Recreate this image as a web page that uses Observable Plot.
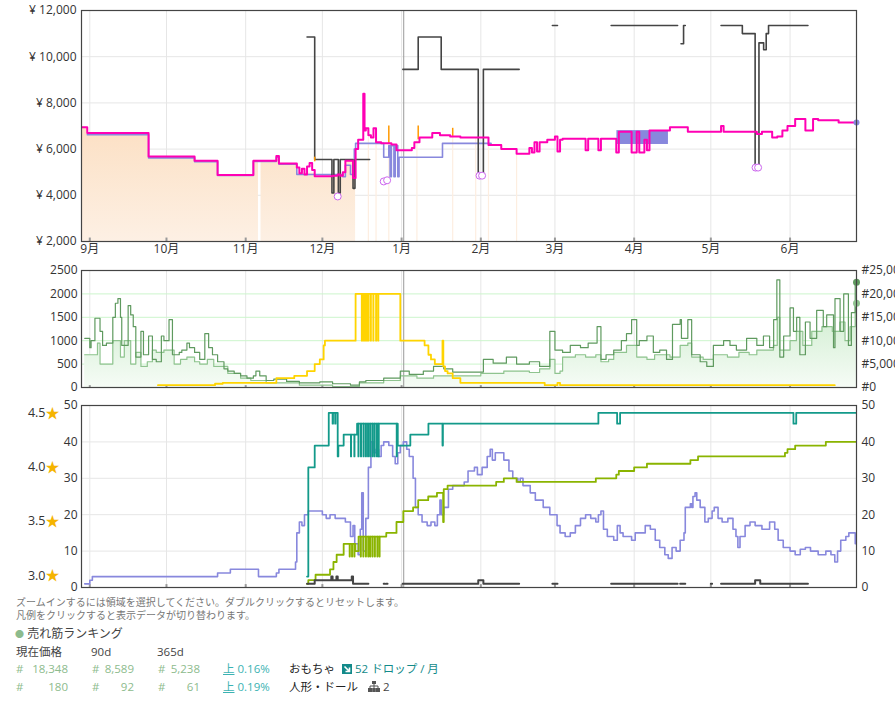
<!DOCTYPE html>
<html><head><meta charset="utf-8">
<script src="https://cdn.jsdelivr.net/npm/d3@7"></script>
<script src="https://cdn.jsdelivr.net/npm/@observablehq/plot@0.6"></script>
<style>
body{margin:0;background:#fff;font-family:"Open Sans","Noto Sans CJK JP",sans-serif;}
#wrap{position:relative;width:895px;height:705px;overflow:hidden;background:#fff;}
.panel{position:absolute;left:0;}
.ft{position:absolute;white-space:nowrap;line-height:14px;}
</style></head><body><div id="wrap">
<div id="p1" class="panel" style="top:0"></div>
<div id="p2" class="panel" style="top:260px"></div>
<div id="p3" class="panel" style="top:395px"></div>
</div>
<script>
// ---------- shared ----------
const monthStarts = ["2023-09-01","2023-10-01","2023-11-01","2023-12-01","2024-01-01","2024-02-01","2024-03-01","2024-04-01","2024-05-01","2024-06-01"];
const xStart = "2023-08-28T18:00", xEnd = "2024-06-27T00:00";
const yearMark = ["2024-01-01T20:00"];

// ---------- top panel: prices ----------
const priceTicks = [2000,4000,6000,8000,10000,12000];
const buyBoxPrice = [["2023-08-29",6950],["2023-08-31",6700],["2023-09-24",5680],["2023-10-12",5500],["2023-10-21",4880],["2023-11-04",5500],["2023-11-13",5700],["2023-11-14",5380],["2023-11-21",5200],["2023-11-22",4950],["2023-11-23",5150],["2023-11-24",4900],["2023-11-25",5250],["2023-11-26",5400],["2023-11-27",5100],["2023-11-28",4830],["2023-12-05",4850],["2023-12-07",4900],["2023-12-08",4850],["2023-12-09",5000],["2023-12-10",5500],["2023-12-13",4750],["2023-12-14",6000],["2023-12-15",6400],["2023-12-17",8400],["2023-12-17T12:00",6800],["2023-12-18",6900],["2023-12-19",6600],["2023-12-20",6500],["2023-12-21",6900],["2023-12-22",6300],["2023-12-24",6250],["2023-12-28",6200],["2023-12-30",5950],["2024-01-05",6050],["2024-01-06",6300],["2024-01-08",6500],["2024-01-13",6700],["2024-01-16",6600],["2024-01-20",6550],["2024-01-24",6500],["2024-02-04",6180],["2024-02-09",6000],["2024-02-15",5800],["2024-02-20",6050],["2024-02-21",5850],["2024-02-22",6300],["2024-02-23",5900],["2024-02-24",6300],["2024-02-27",6400],["2024-03-01",6550],["2024-03-02",5900],["2024-03-03",6400],["2024-03-04",6450],["2024-03-13",5950],["2024-03-14",6450],["2024-03-18",5950],["2024-03-19",6450],["2024-03-25",5850],["2024-03-26",6750],["2024-03-31",5850],["2024-04-02",6750],["2024-04-03",5850],["2024-04-05",6400],["2024-04-06",5950],["2024-04-07",6800],["2024-04-15",6950],["2024-04-22",6750],["2024-05-05",7000],["2024-05-06",6750],["2024-05-19",6650],["2024-05-21",6750],["2024-05-25",6500],["2024-05-27",6550],["2024-05-29",6800],["2024-05-31",7000],["2024-06-03",7300],["2024-06-07",6800],["2024-06-10",7300],["2024-06-12",7250],["2024-06-20",7150],["2024-06-27",7150]];
const newPrice = [["2023-08-31",6620],["2023-09-24",5620],["2023-10-12",5450],["2023-10-21",4860],["2023-11-04",5460],["2023-11-13",5650],["2023-11-14",5350],["2023-11-21",4900],["2023-12-09",4800],["2023-12-10",5300],["2023-12-12",4900],["2023-12-13T12:00",6000],["2023-12-14",6250],["2023-12-25",5650],["2023-12-27",6150],["2023-12-27T12:00",4800],["2023-12-28",6150],["2023-12-29",4800],["2023-12-29T12:00",6150],["2023-12-30T12:00",4800],["2023-12-31",5650],["2024-01-17",6250],["2024-02-05",6180],["2024-02-05T01:00",null]];
const newPriceBlock = ["2024-03-25T06:00","2024-04-14T10:00",6200,6800];
const newPriceLast = [["2024-06-27",7150]];
const amazonPrice = [["2023-08-28T18:00",6950],["2023-08-31",6650],["2023-09-24",5650],["2023-10-12",5480],["2023-10-21",4880],["2023-11-04",5500],["2023-11-06",5500],["2023-11-06T01:00",null],["2023-11-07",5500],["2023-11-13",5680],["2023-11-14",5370],["2023-11-21",4950],["2023-11-28",4830],["2023-12-09",5000],["2023-12-10",5500],["2023-12-14",5500],["2023-12-14T01:00",null]];
const amazonSpikes = [["2023-12-19",6500],["2023-12-22",6300],["2023-12-27",6300],["2024-01-07",6400],["2024-01-21",6600],["2024-01-30",6500],["2024-02-04",6500],["2024-02-15",6000]];
const amazonTicks = [["2023-11-28",5450,5650],["2023-12-27",6200,7000],["2024-01-07T12:00",6400,7000],["2024-01-21",6550,6900]];
const collectiblePrice = [["2023-11-25",10850],["2023-11-28",5550],["2023-12-04T18:00",4100],["2023-12-05T12:00",5550],["2023-12-07T06:00",4100],["2023-12-08",5550],["2023-12-13",4300],["2023-12-13T18:00",5550],["2023-12-19T12:00",5550],["2023-12-19T13:00",null],["2024-01-01T12:00",9450],["2024-01-07T12:00",10850],["2024-01-16T12:00",9450],["2024-01-31",4850],["2024-02-02",9450],["2024-02-16",9450],["2024-02-16T01:00",null],["2024-02-29",11350],["2024-03-02",11350],["2024-03-02T01:00",null],["2024-03-23",11350],["2024-04-18",11350],["2024-04-18T01:00",null],["2024-04-19T08:00",10560],["2024-04-20T08:00",11350],["2024-04-21",11350],["2024-04-21T01:00",null],["2024-05-05",11350],["2024-05-13T08:00",11000],["2024-05-18T08:00",5200],["2024-05-19T20:00",10600],["2024-05-21T16:00",10300],["2024-05-22T16:00",11000],["2024-05-23T14:00",11350],["2024-06-08",11350]];
const dealMarks = [["2023-12-07",3950],["2023-12-25",4600],["2023-12-26T08:00",4650],["2024-01-31T12:00",4850],["2024-02-01T12:00",4850],["2024-05-18T12:00",5200],["2024-05-19T12:00",5200]];

// ---------- middle panel: rank + offers ----------
const countTicks = [0,500,1000,1500,2000,2500];
const rankTicks = [0,5000,10000,15000,20000,25000];
const offerSeries = [["2023-09-27T16:00",50],["2023-10-20",80],["2023-10-23",100],["2023-11-13",200],["2023-11-20",250],["2023-11-25",350],["2023-11-28",500],["2023-11-30",600],["2023-12-01T12:00",900],["2023-12-02",1000],["2023-12-14",2000],["2023-12-16T10:00",1000],["2023-12-16T12:00",2000],["2023-12-17",1000],["2023-12-17T02:00",2000],["2023-12-17T16:00",1000],["2023-12-17T18:00",2000],["2023-12-18T08:00",1000],["2023-12-18T10:00",2000],["2023-12-19",1000],["2023-12-19T02:00",2000],["2023-12-19T22:00",1000],["2023-12-20",2000],["2023-12-20T22:00",1000],["2023-12-21",2000],["2023-12-22",1000],["2023-12-22T02:00",2000],["2023-12-22T20:00",1000],["2023-12-22T22:00",2000],["2023-12-31T12:00",1000],["2024-01-10",900],["2024-01-11T12:00",700],["2024-01-12T12:00",600],["2024-01-14",500],["2024-01-17",1000],["2024-01-17T08:00",450],["2024-01-18",350],["2024-01-19",300],["2024-01-21",200],["2024-01-24",100],["2024-02-26",50],["2024-03-02",100],["2024-03-03",50],["2024-06-18T12:00",50]];
const rankDark = [["2023-08-30",10500],["2023-09-01",8500],["2023-09-01T12:00",10000],["2023-09-03",14800],["2023-09-05",12000],["2023-09-06",9000],["2023-09-07T12:00",9500],["2023-09-10",15000],["2023-09-11",18000],["2023-09-12",19000],["2023-09-13",15000],["2023-09-13T12:00",9000],["2023-09-16",17500],["2023-09-17",15500],["2023-09-18",13000],["2023-09-19",6500],["2023-09-21",12000],["2023-09-22",7000],["2023-09-24",11000],["2023-09-25T12:00",6000],["2023-09-27",5500],["2023-09-29",11000],["2023-09-30",10000],["2023-10-02",14500],["2023-10-03T08:00",7000],["2023-10-06",7500],["2023-10-07",8000],["2023-10-09",9500],["2023-10-10",8500],["2023-10-12",7500],["2023-10-14",6000],["2023-10-16",11500],["2023-10-17T12:00",8500],["2023-10-19",7000],["2023-10-21",5500],["2023-10-23T12:00",4000],["2023-10-25",3500],["2023-10-27T12:00",3000],["2023-10-30",2500],["2023-11-01T12:00",2000],["2023-11-04",2500],["2023-11-05",3500],["2023-11-06T12:00",2500],["2023-11-09",1500],["2023-11-12",1800],["2023-11-17",1300],["2023-11-22",1000],["2023-11-30",1200],["2023-12-05",800],["2023-12-12",500],["2023-12-15T12:00",1200],["2023-12-18",1500],["2023-12-25",2000],["2023-12-31T12:00",3500],["2024-01-04",2800],["2024-01-09T12:00",3500],["2024-01-13T12:00",4500],["2024-01-17T12:00",4000],["2024-01-21",3300],["2024-02-02",6000],["2024-02-05T20:00",5200],["2024-02-11",6500],["2024-02-15",5000],["2024-02-20",5500],["2024-02-24",4500],["2024-02-28",12000],["2024-03-01",8000],["2024-03-04",7500],["2024-03-07",9000],["2024-03-11",8500],["2024-03-14",9500],["2024-03-17T12:00",13000],["2024-03-19",6000],["2024-03-21",7000],["2024-03-24",8000],["2024-03-27",10000],["2024-03-29",11500],["2024-03-31",14500],["2024-04-02",9000],["2024-04-03",10000],["2024-04-06",11000],["2024-04-08T12:00",7500],["2024-04-11",8000],["2024-04-13T16:00",6000],["2024-04-16",13500],["2024-04-19",14500],["2024-04-19T12:00",10500],["2024-04-22",14500],["2024-04-23T12:00",7000],["2024-04-26T20:00",5500],["2024-04-29T10:00",4500],["2024-05-02",9000],["2024-05-06",10000],["2024-05-08T12:00",9000],["2024-05-11",8000],["2024-05-15",10500],["2024-05-19",9000],["2024-05-21T14:00",11000],["2024-05-24",8500],["2024-05-25T14:00",14500],["2024-05-26T20:00",23000],["2024-05-28",6500],["2024-05-29T12:00",11000],["2024-06-01",17000],["2024-06-02T08:00",12000],["2024-06-03T14:00",15000],["2024-06-04T20:00",7000],["2024-06-07",14000],["2024-06-08T20:00",10500],["2024-06-11T10:00",16500],["2024-06-14",13000],["2024-06-15T08:00",15500],["2024-06-18",8500],["2024-06-18T14:00",19000],["2024-06-20T14:00",12000],["2024-06-22",20000],["2024-06-23T20:00",9000],["2024-06-25",16000],["2024-06-26T12:00",22500],["2024-06-27",22500]];
const rankLight = [["2023-08-30",7000],["2023-09-04",9500],["2023-09-05",5000],["2023-09-10",10000],["2023-09-13",6500],["2023-09-14T12:00",10000],["2023-09-17",5000],["2023-09-19",7500],["2023-09-21",4500],["2023-09-23T12:00",5500],["2023-09-25T12:00",8000],["2023-09-27",7500],["2023-09-30",8000],["2023-10-04",5000],["2023-10-06T12:00",6000],["2023-10-09",6500],["2023-10-12",5500],["2023-10-14",5000],["2023-10-17",6000],["2023-10-19T12:00",4500],["2023-10-25",3000],["2023-10-30",2000],["2023-11-03",1500],["2023-11-09",1000],["2023-11-22",500],["2023-12-05",200],["2023-12-15T12:00",1000],["2023-12-25",1500],["2023-12-31T12:00",2500],["2024-01-07",2000],["2024-01-13T12:00",2500],["2024-01-20",2500],["2024-02-01",3000],["2024-02-10",3500],["2024-02-20",3200],["2024-02-24",4000],["2024-02-28",6000],["2024-03-01",3000],["2024-03-03",3500],["2024-03-04",6500],["2024-03-09",7000],["2024-03-13",6500],["2024-03-17",7000],["2024-03-19",5500],["2024-03-22",6000],["2024-03-24",7500],["2024-03-29",9000],["2024-04-02",6500],["2024-04-06",6000],["2024-04-09",7000],["2024-04-15",6500],["2024-04-19",9000],["2024-04-22",9500],["2024-04-23T12:00",6500],["2024-04-28",6000],["2024-05-02",7000],["2024-05-07T12:00",6500],["2024-05-12",7500],["2024-05-16",7000],["2024-05-19",8000],["2024-05-25T12:00",9000],["2024-05-27",15000],["2024-05-28",8000],["2024-06-01",10000],["2024-06-03T12:00",12000],["2024-06-06",9000],["2024-06-09T12:00",12000],["2024-06-13T12:00",13000],["2024-06-17T12:00",12000],["2024-06-20T12:00",14000],["2024-06-22T12:00",10000],["2024-06-24T12:00",13000],["2024-06-26T12:00",18000],["2024-06-27",18000]];

// ---------- bottom panel: counts + rating ----------
const smallTicks = [0,10,20,30,40,50];
const ratingTicks = [3.0,3.5,4.0,4.5];
const ratingDomain = [2.89, 4.57];
const reviewCount = [["2023-08-30",1],["2023-09-01",2],["2023-09-02",3],["2023-10-21",4],["2023-10-26",5],["2023-11-06",3],["2023-11-13",4],["2023-11-14",5],["2023-11-20T12:00",7],["2023-11-21",15],["2023-11-22",18],["2023-11-23",17],["2023-11-24",20],["2023-11-25T12:00",21],["2023-12-01",20],["2023-12-02T12:00",19],["2023-12-04",20],["2023-12-06",19],["2023-12-10",18],["2023-12-12",14],["2023-12-13",17],["2023-12-13T16:00",12],["2023-12-15",9],["2023-12-15T20:00",16],["2023-12-16T10:00",26],["2023-12-17",10],["2023-12-18",19],["2023-12-19",33],["2023-12-20",40],["2023-12-21",37],["2023-12-22",38],["2023-12-23",36],["2023-12-24",39],["2023-12-25",40],["2023-12-27",39],["2023-12-28T12:00",36],["2023-12-29T12:00",34],["2023-12-30T12:00",37],["2023-12-31T12:00",39],["2024-01-01T16:00",40],["2024-01-03",38],["2024-01-04",36],["2024-01-05T12:00",30],["2024-01-06T10:00",22],["2024-01-07T12:00",20],["2024-01-09",18],["2024-01-11",17],["2024-01-12T12:00",18],["2024-01-14",17],["2024-01-15",20],["2024-01-16",24],["2024-01-16T12:00",20],["2024-01-17T12:00",22],["2024-01-19T08:00",27],["2024-01-21",28],["2024-01-25T12:00",29],["2024-01-27",32],["2024-01-29T12:00",33],["2024-01-30T16:00",31],["2024-02-01T12:00",33],["2024-02-03T12:00",36],["2024-02-04T16:00",38],["2024-02-05T12:00",35],["2024-02-06T16:00",37],["2024-02-10",35],["2024-02-12",32],["2024-02-13T12:00",30],["2024-02-15T12:00",29],["2024-02-16T10:00",30],["2024-02-17T12:00",28],["2024-02-20T08:00",26],["2024-02-22T08:00",24],["2024-02-25T10:00",22],["2024-02-28",20],["2024-03-01T20:00",17],["2024-03-03",15],["2024-03-05",14],["2024-03-07",15],["2024-03-09",17],["2024-03-11",19],["2024-03-13",20],["2024-03-15",19],["2024-03-17",18],["2024-03-18",20],["2024-03-19",21],["2024-03-20",16],["2024-03-21T12:00",14],["2024-03-24",13],["2024-03-25T10:00",17],["2024-03-26T12:00",15],["2024-03-27T16:00",14],["2024-03-31",13],["2024-04-01T10:00",15],["2024-04-05T08:00",17],["2024-04-07T08:00",16],["2024-04-09T06:00",13],["2024-04-11",11],["2024-04-13",9],["2024-04-14T08:00",8],["2024-04-15T20:00",11],["2024-04-17T10:00",10],["2024-04-19",13],["2024-04-20T12:00",15],["2024-04-21",22],["2024-04-23",23],["2024-04-23T14:00",22],["2024-04-24",25],["2024-04-24T20:00",26],["2024-04-25T12:00",24],["2024-04-26T20:00",22],["2024-04-28T16:00",18],["2024-04-30",19],["2024-05-01T12:00",21],["2024-05-02T08:00",22],["2024-05-03T20:00",19],["2024-05-05T10:00",18],["2024-05-07T16:00",19],["2024-05-09T16:00",16],["2024-05-10T20:00",14],["2024-05-11T14:00",11],["2024-05-12T10:00",14],["2024-05-14T10:00",17],["2024-05-16T08:00",18],["2024-05-18T08:00",17],["2024-05-21",16],["2024-05-24",18],["2024-05-26",16],["2024-05-27T08:00",13],["2024-05-29T08:00",11],["2024-06-01",10],["2024-06-03",9],["2024-06-05",10.5],["2024-06-07",11],["2024-06-09",10],["2024-06-12",9],["2024-06-15",10],["2024-06-17",9],["2024-06-18T12:00",7],["2024-06-19T14:00",10],["2024-06-20T20:00",13],["2024-06-22T20:00",14],["2024-06-24",15],["2024-06-26T12:00",12],["2024-06-27",12]];
const newOfferCount = [["2023-11-25",3],["2023-11-25T12:00",33],["2023-11-28",39],["2023-12-03T12:00",48],["2023-12-05",45],["2023-12-05T04:00",48],["2023-12-06",45],["2023-12-06T04:00",48],["2023-12-07",36],["2023-12-07T06:00",39],["2023-12-09T08:00",42],["2023-12-12T04:00",36],["2023-12-12T06:00",42],["2023-12-13T12:00",36],["2023-12-13T14:00",42],["2023-12-14T14:00",45],["2023-12-15T02:00",36],["2023-12-15T04:00",45],["2023-12-16T02:00",36],["2023-12-16T04:00",45],["2023-12-17T02:00",36],["2023-12-17T04:00",45],["2023-12-18",36],["2023-12-18T02:00",45],["2023-12-18T20:00",36],["2023-12-18T22:00",45],["2023-12-19T16:00",36],["2023-12-19T18:00",45],["2023-12-20T14:00",36],["2023-12-20T16:00",45],["2023-12-21T10:00",36],["2023-12-21T12:00",45],["2023-12-22T08:00",36],["2023-12-22T10:00",45],["2023-12-23",36],["2023-12-23T02:00",45],["2023-12-30T02:00",36],["2023-12-30T04:00",45],["2023-12-30T12:00",39],["2024-01-04T10:00",42],["2024-01-11T12:00",45],["2024-01-17",39],["2024-01-17T04:00",45],["2024-03-18",48],["2024-03-25T08:00",45],["2024-03-26T12:00",48],["2024-06-02T08:00",45],["2024-06-03T10:00",48],["2024-06-27",48]];
const ratingCountSeries = [["2023-11-25",1],["2023-11-25T12:00",2],["2023-11-28T08:00",3.5],["2023-12-04",5],["2023-12-05T08:00",7],["2023-12-06T14:00",9],["2023-12-09T08:00",12],["2023-12-11T16:00",8.5],["2023-12-11T18:00",12],["2023-12-12T14:00",8.5],["2023-12-12T16:00",12],["2023-12-13T12:00",8.5],["2023-12-13T14:00",12],["2023-12-13T22:00",10],["2023-12-15T04:00",14],["2023-12-16",8.5],["2023-12-16T02:00",14],["2023-12-17",8.5],["2023-12-17T02:00",14],["2023-12-18",8.5],["2023-12-18T02:00",14],["2023-12-18T22:00",8.5],["2023-12-19T00:00",14],["2023-12-19T16:00",8.5],["2023-12-19T18:00",14],["2023-12-20T14:00",8.5],["2023-12-20T16:00",14],["2023-12-21T12:00",8.5],["2023-12-21T14:00",14],["2023-12-22T12:00",8.5],["2023-12-22T14:00",14],["2023-12-23T08:00",8.5],["2023-12-23T10:00",14],["2023-12-26",15],["2023-12-30",18],["2024-01-01T16:00",21],["2024-01-05T12:00",22],["2024-01-07T12:00",24],["2024-01-11T10:00",25],["2024-01-14T20:00",26],["2024-01-17T06:00",18],["2024-01-17T12:00",27],["2024-01-19",28],["2024-02-07",29],["2024-02-10",30],["2024-02-15",29],["2024-03-17",30],["2024-03-25",31],["2024-03-26",32],["2024-04-01",33],["2024-04-06",34],["2024-04-23",35],["2024-04-26",36],["2024-05-30",37],["2024-05-31",38],["2024-06-03",39],["2024-06-15",40],["2024-06-27",40]];
const usedOfferCount = [["2023-11-25",1],["2023-11-28",2],["2023-12-04T12:00",3],["2023-12-05",2],["2023-12-06T12:00",3],["2023-12-07",2],["2023-12-12T12:00",3],["2023-12-13",1],["2023-12-19",1],["2023-12-19T01:00",null],["2023-12-25",1],["2023-12-25T12:00",1],["2023-12-25T13:00",null],["2023-12-26",1],["2023-12-26T12:00",1],["2023-12-26T13:00",null],["2024-01-01T10:00",1],["2024-01-31",2],["2024-02-02",1],["2024-02-16",1],["2024-02-16T01:00",null],["2024-02-29",1],["2024-03-02",1],["2024-03-02T01:00",null],["2024-03-23",1],["2024-04-18",1],["2024-04-18T01:00",null],["2024-04-19",1],["2024-04-21",1],["2024-04-21T01:00",null],["2024-05-01",1],["2024-05-01T12:00",1],["2024-05-01T13:00",null],["2024-05-05",1],["2024-05-18T08:00",2],["2024-05-20T08:00",1],["2024-06-08",1]];

// ---------- helpers ----------
const FONT = '"Open Sans","Noto Sans CJK JP",sans-serif';
const P = s => new Date(s.length <= 10 ? s + "T00:00" : s);
const tbl = arr => arr.map(([d, v]) => ({date: P(d), value: v}));
const xDomain = [P(xStart), P(xEnd)];
const monthTicks = monthStarts.map(P);
const yearLine = yearMark.map(P);
const fmt = d3.format(",");
const baseStyle = {fontFamily: FONT, fontSize: "12px", color: "#333", background: "transparent"};

function defsMark(html) {
  return () => {
    const g = document.createElementNS("http://www.w3.org/2000/svg", "defs");
    g.innerHTML = html;
    return g;
  };
}
const monthTickMarks = (y0, y1) => Plot.ruleX(monthTicks, {y1: y0, y2: y1, stroke: "#999", strokeWidth: 2});

// ---------- top panel ----------
const pDom = [priceTicks[0], priceTicks[priceTicks.length - 1]];
const topChart = Plot.plot({
  width: 895, height: 260, marginLeft: 81, marginRight: 39, marginTop: 10, marginBottom: 19,
  style: baseStyle,
  x: {type: "time", domain: xDomain, axis: null},
  y: {domain: pDom, axis: null},
  marks: [
    defsMark('<linearGradient id="peachGrad" x1="0" y1="0" x2="0" y2="1"><stop offset="0" stop-color="#fce0c4"/><stop offset="1" stop-color="#fdf0e4"/></linearGradient>'),
    Plot.gridY(priceTicks, {stroke: "#e6e6e6", strokeOpacity: 1}),
    Plot.gridX(monthTicks, {stroke: "#e6e6e6", strokeOpacity: 1}),
    Plot.areaY(tbl(amazonPrice), {x: "date", y1: () => pDom[0], y2: "value", curve: "step-after", fill: "url(#peachGrad)", clip: true}),
    Plot.ruleX(tbl(amazonSpikes), {x: "date", y1: () => pDom[0], y2: "value", stroke: "#fdeee0", strokeWidth: 1.2}),
    Plot.ruleX(yearLine, {stroke: "#999", strokeWidth: 1}),
    monthTickMarks(pDom[0], pDom[0] + 150),
    Plot.rect([newPriceBlock], {x1: d => P(d[0]), x2: d => P(d[1]), y1: d => d[2], y2: d => d[3], fill: "#8888dd"}),
    Plot.line(tbl(newPrice), {x: "date", y: "value", curve: "step-after", stroke: "#8888dd", strokeWidth: 1.6, clip: true}),
    Plot.line(tbl(collectiblePrice), {x: "date", y: "value", curve: "step-after", stroke: "#444", strokeWidth: 1.6, clip: true}),
    Plot.ruleX(amazonTicks, {x: d => P(d[0]), y1: d => d[1], y2: d => d[2], stroke: "#ff9900", strokeWidth: 1.5}),
    Plot.line(tbl(buyBoxPrice), {x: "date", y: "value", curve: "step-after", stroke: "#ff00b4", strokeWidth: 2, clip: true}),
    Plot.dot(tbl(dealMarks), {x: "date", y: "value", r: 3.5, stroke: "#cc66ee", fill: "white", strokeWidth: 1}),
    Plot.dot(tbl(newPriceLast), {x: "date", y: "value", r: 3, fill: "#8888dd"}),
    Plot.axisY(priceTicks, {label: null, tickSize: 0, tickPadding: 5, tickFormat: d => "¥ " + fmt(d), fill: "#333"}),
    Plot.axisX(monthTicks, {label: null, anchor: "bottom", tickSize: 0, tickPadding: 3, tickFormat: d => `${d.getMonth() + 1}月`, fill: "#333"}),
    Plot.frame({stroke: "#444", strokeWidth: 1.2})
  ]
});
document.getElementById("p1").append(topChart);

// ---------- middle panel ----------
const rankRatio = rankTicks[rankTicks.length - 1] / countTicks[countTicks.length - 1];
const cDom = [countTicks[0], countTicks[countTicks.length - 1]];
const rankEnds = [rankDark[rankDark.length - 1], rankLight[rankLight.length - 1]];
const midChart = Plot.plot({
  width: 895, height: 135, marginLeft: 81, marginRight: 39, marginTop: 10, marginBottom: 8,
  style: baseStyle,
  x: {type: "time", domain: xDomain, axis: null},
  y: {domain: cDom, axis: null},
  marks: [
    defsMark('<linearGradient id="greenGrad" x1="0" y1="0" x2="0" y2="1"><stop offset="0" stop-color="#cdeccd"/><stop offset="1" stop-color="#f6fcf6"/></linearGradient>'),
    Plot.gridX(monthTicks, {stroke: "#e6e6e6", strokeOpacity: 1}),
    Plot.gridY(countTicks.slice(1, -1), {stroke: "#ccf5cc", strokeOpacity: 1}),
    Plot.areaY(tbl(rankLight), {x: "date", y1: 0, y2: d => d.value / rankRatio, curve: "step-after", fill: "url(#greenGrad)", clip: true}),
    Plot.ruleX(yearLine, {stroke: "#999", strokeWidth: 1}),
    monthTickMarks(cDom[0], cDom[0] + 40),
    Plot.line(tbl(rankLight), {x: "date", y: d => d.value / rankRatio, curve: "step-after", stroke: "#8fc48f", strokeWidth: 1.2, clip: true}),
    Plot.line(tbl(rankDark), {x: "date", y: d => d.value / rankRatio, curve: "step-after", stroke: "#5f9a5f", strokeWidth: 1.2, clip: true}),
    Plot.line(tbl(offerSeries), {x: "date", y: "value", curve: "step-after", stroke: "#ffd400", strokeWidth: 1.8, clip: true}),
    Plot.dot(tbl(rankEnds), {x: "date", y: d => d.value / rankRatio, r: 3.5, fill: (d, i) => i ? "#8fc48f" : "#5f9a5f"}),
    Plot.axisY(countTicks, {label: null, anchor: "left", tickSize: 0, tickPadding: 4, tickFormat: d => String(d), fill: "#333"}),
    Plot.axisY(rankTicks.map(r => r / rankRatio), {label: null, anchor: "right", tickSize: 0, tickPadding: 5, tickFormat: d => "#" + fmt(d * rankRatio), fill: "#333"}),
    Plot.frame({stroke: "#444", strokeWidth: 1.2})
  ]
});
document.getElementById("p2").append(midChart);

// ---------- bottom panel ----------
const sDom = [smallTicks[0], smallTicks[smallTicks.length - 1]];
const ratingToY = r => (r - ratingDomain[0]) / (ratingDomain[1] - ratingDomain[0]) * sDom[1];
const botChart = Plot.plot({
  width: 895, height: 200, marginLeft: 81, marginRight: 39, marginTop: 10, marginBottom: 8,
  style: baseStyle,
  x: {type: "time", domain: xDomain, axis: null},
  y: {domain: sDom, axis: null},
  marks: [
    Plot.gridX(monthTicks, {stroke: "#e6e6e6", strokeOpacity: 1}),
    Plot.gridY(smallTicks, {stroke: "#e6e6e6", strokeOpacity: 1}),
    Plot.ruleX(yearLine, {stroke: "#999", strokeWidth: 1}),
    monthTickMarks(sDom[0], sDom[0] + 0.8),
    Plot.line(tbl(reviewCount), {x: "date", y: "value", curve: "step-after", stroke: "#8888dd", strokeWidth: 1.6, clip: true}),
    Plot.line(tbl(ratingCountSeries), {x: "date", y: "value", curve: "step-after", stroke: "#8ab400", strokeWidth: 1.8, clip: true}),
    Plot.line(tbl(newOfferCount), {x: "date", y: "value", curve: "step-after", stroke: "#139a8a", strokeWidth: 1.8, clip: true}),
    Plot.line(tbl(usedOfferCount), {x: "date", y: "value", curve: "step-after", stroke: "#444", strokeWidth: 2, clip: true}),
    Plot.axisY(smallTicks, {label: null, anchor: "left", tickSize: 0, tickPadding: 4, fill: "#333"}),
    Plot.axisY(smallTicks, {label: null, anchor: "right", tickSize: 0, tickPadding: 5, fill: "#333"}),
    Plot.text(ratingTicks, {y: ratingToY, frameAnchor: "left", dx: -36, textAnchor: "end", text: r => r.toFixed(1), fill: "#333", fontSize: 12.5}),
    Plot.text(ratingTicks, {y: ratingToY, frameAnchor: "left", dx: -29, textAnchor: "middle", text: () => "★", fill: "#f5b400", fontSize: 14}),
    Plot.frame({stroke: "#444", strokeWidth: 1.2})
  ]
});
document.getElementById("p3").append(botChart);

// ---------- footer ----------
const rankRows = [
  {cur: "18,348", d90: "8,589", d365: "5,238", pct: "0.16%", cat: "おもちゃ"},
  {cur: "180", d90: "92", d365: "61", pct: "0.19%", cat: "人形・ドール"}
];
const wrapEl = document.getElementById("wrap");
function addDiv(html, left, topPx, extra) {
  const d = document.createElement("div");
  d.className = "ft";
  d.style.left = left + "px"; d.style.top = topPx + "px";
  if (extra) d.style.cssText += extra;
  d.innerHTML = html;
  wrapEl.append(d);
  return d;
}
addDiv("ズームインするには領域を選択してください。ダブルクリックするとリセットします。", 16, 595, "font-size:10px;color:#777;");
addDiv("凡例をクリックすると表示データが切り替わります。", 16, 608, "font-size:10px;color:#777;");
addDiv('<span style="color:#8dbb8d;font-size:9px;vertical-align:1px">●</span> 売れ筋ランキング', 15, 627, "font-size:12px;color:#444;");
addDiv("現在価格", 16, 645, "font-size:11.5px;color:#444;");
addDiv("90d", 91, 645, "font-size:11.5px;color:#444;");
addDiv("365d", 157, 645, "font-size:11.5px;color:#444;");
const rowTops = [662, 680];
rankRows.forEach((r, i) => {
  const t = rowTops[i];
  [[16, 68, r.cur], [92, 134, r.d90], [158, 200, r.d365]].forEach(([hx, right, v]) => {
    addDiv("#", hx, t, "font-size:11.5px;color:#8dbb8d;");
    addDiv(v, hx + 6, t, `font-size:11.5px;color:#8dbb8d;width:${right - hx - 6}px;text-align:right;`);
  });
  addDiv('<span style="text-decoration:underline">上</span> ' + r.pct, 223, t, "font-size:11.5px;color:#3bb3b3;");
  addDiv(r.cat, 289, t, "font-size:11.5px;color:#222;");
});
addDiv('<svg width="10" height="10" style="vertical-align:-1px"><rect width="10" height="10" fill="#138a8a"/><path d="M2.5,2.5 L7.5,7.5 M7.5,3.5 V7.5 H3.5" stroke="white" stroke-width="1.6" fill="none"/></svg>', 342, rowTops[0], "font-size:11.5px;");
addDiv("52 ドロップ / 月", 355, rowTops[0], "font-size:11.5px;color:#138a8a;");
addDiv('<svg width="12" height="11" style="vertical-align:-1px"><rect x="4" y="0" width="4" height="3" fill="#555"/><path d="M6,3 V5 M2,5 H10 M2,5 V7 M6,5 V7 M10,5 V7" stroke="#555" stroke-width="1" fill="none"/><rect x="0" y="7" width="4" height="4" fill="#555"/><rect x="4.2" y="7" width="3.6" height="4" fill="#555"/><rect x="8" y="7" width="4" height="4" fill="#555"/></svg>', 368, rowTops[1], "font-size:11.5px;");
addDiv("2", 383, rowTops[1], "font-size:11.5px;color:#444;");
</script></body></html>
